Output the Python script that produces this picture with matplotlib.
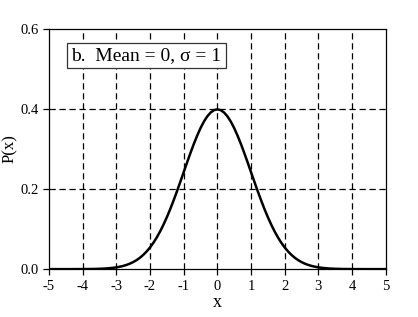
import matplotlib
matplotlib.use("Agg")
import matplotlib.pyplot as plt

# normal curve, x from -5 to 5 in steps of 0.1
x_vals = [round(-5 + 0.1 * i, 1) for i in range(101)]
p_vals = [
    0.0000, 0.0000, 0.0000, 0.0000, 0.0000, 0.0000, 0.0000, 0.0000, 0.0001, 0.0001,
    0.0001, 0.0002, 0.0003, 0.0004, 0.0006, 0.0009, 0.0012, 0.0017, 0.0024, 0.0033,
    0.0044, 0.0060, 0.0079, 0.0104, 0.0136, 0.0175, 0.0224, 0.0283, 0.0355, 0.0440,
    0.0540, 0.0656, 0.0790, 0.0940, 0.1109, 0.1295, 0.1497, 0.1714, 0.1942, 0.2179,
    0.2420, 0.2661, 0.2897, 0.3123, 0.3332, 0.3521, 0.3683, 0.3814, 0.3910, 0.3970,
    0.3989, 0.3970, 0.3910, 0.3814, 0.3683, 0.3521, 0.3332, 0.3123, 0.2897, 0.2661,
    0.2420, 0.2179, 0.1942, 0.1714, 0.1497, 0.1295, 0.1109, 0.0940, 0.0790, 0.0656,
    0.0540, 0.0440, 0.0355, 0.0283, 0.0224, 0.0175, 0.0136, 0.0104, 0.0079, 0.0060,
    0.0044, 0.0033, 0.0024, 0.0017, 0.0012, 0.0009, 0.0006, 0.0004, 0.0003, 0.0002,
    0.0001, 0.0001, 0.0001, 0.0000, 0.0000, 0.0000, 0.0000, 0.0000, 0.0000, 0.0000,
    0.0000,
]

x_ticks = [-5, -4, -3, -2, -1, 0, 1, 2, 3, 4, 5]
y_ticks = [0.0, 0.2, 0.4, 0.6]
x_grid = [-4, -3, -2, -1, 0, 1, 2, 3, 4]
y_grid = [0.2, 0.4]
label_text = "b.  Mean = 0, σ = 1"

plt.rcParams["font.family"] = ["Liberation Serif", "DejaVu Serif"]
plt.rcParams["font.size"] = 10.5
plt.rcParams["axes.unicode_minus"] = False

fig = plt.figure(figsize=(4.18, 3.17), dpi=100)
ax = fig.add_axes([0.117, 0.151, 0.806, 0.758])

for gx in x_grid:
    ax.axvline(gx, color="black", lw=0.9, ls=(0, (5, 3)), zorder=1)
for gy in y_grid:
    ax.axhline(gy, color="black", lw=0.9, ls=(0, (5, 3)), zorder=1)

ax.plot(x_vals, p_vals, color="black", lw=1.8, zorder=3)

ax.set_xlim(-5, 5)
ax.set_ylim(0, 0.6)
ax.set_xticks(x_ticks)
ax.set_yticks(y_ticks)
ax.set_yticklabels([f"{v:.1f}" for v in y_ticks])
ax.tick_params(direction="out", length=4, width=0.9, labelsize=10.5)
for s in ax.spines.values():
    s.set_linewidth(0.9)

ax.set_xlabel("x", fontsize=13, labelpad=1)
ax.set_ylabel("P(x)", fontsize=12, labelpad=2)

ax.text(-4.33, 0.533, label_text, fontsize=14, va="center", ha="left", zorder=5,
        bbox=dict(boxstyle="square,pad=0.22", facecolor="white", edgecolor="#333333", lw=0.9))

fig.savefig("out.png", dpi=100)
